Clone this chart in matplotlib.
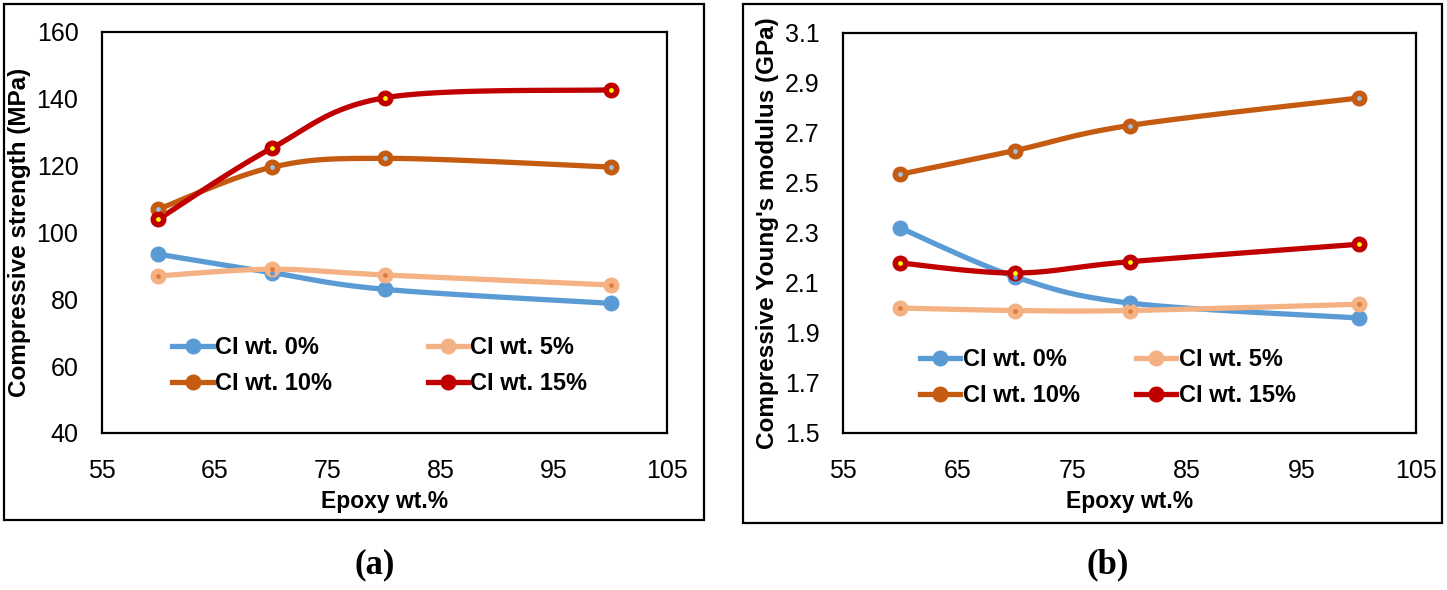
import numpy as np
import matplotlib.pyplot as plt
from matplotlib.lines import Line2D
from matplotlib.patches import Rectangle

# data
epoxy = [60, 70, 80, 100]
labels = ['CI wt. 0%', 'CI wt. 5%', 'CI wt. 10%', 'CI wt. 15%']

strength_0 = [93.5, 88.0, 83.0, 78.8]
strength_5 = [87.0, 89.0, 87.3, 84.3]
strength_10 = [107.0, 119.5, 122.2, 119.6]
strength_15 = [104.0, 125.2, 140.3, 142.7]

modulus_0 = [2.32, 2.125, 2.02, 1.96]
modulus_5 = [2.00, 1.99, 1.99, 2.015]
modulus_10 = [2.535, 2.63, 2.73, 2.84]
modulus_15 = [2.18, 2.14, 2.185, 2.255]

colors = ['#5B9BD5', '#F4B183', '#C55A11', '#C00000']
dot_colors = ['#5B9BD5', '#E07B39', '#9DC3E6', '#FFFF00']

tick_font = ['Liberation Sans Narrow', 'Liberation Sans', 'DejaVu Sans']
bold_font = ['Liberation Sans', 'DejaVu Sans']


def smooth(x, y, xr, yr, n=40):
    # Excel-like smoothed line (Catmull-Rom through the points)
    p = np.column_stack([(np.array(x) - xr[0]) / (xr[1] - xr[0]),
                         (np.array(y) - yr[0]) / (yr[1] - yr[0])])
    pts = np.vstack([p[0], p, p[-1]])
    out = []
    for i in range(1, len(pts) - 2):
        p0, p1, p2, p3 = pts[i - 1], pts[i], pts[i + 1], pts[i + 2]
        c1 = p1 + (p2 - p0) / 6
        c2 = p2 - (p3 - p1) / 6
        t = np.linspace(0, 1, n)[:, None]
        seg = ((1 - t) ** 3) * p1 + 3 * ((1 - t) ** 2) * t * c1 + 3 * (1 - t) * t ** 2 * c2 + t ** 3 * p2
        out.append(seg)
    s = np.vstack(out)
    return s[:, 0] * (xr[1] - xr[0]) + xr[0], s[:, 1] * (yr[1] - yr[0]) + yr[0]


def draw(ax, series, ylim, yticks, ylabel, leg_anchor, colspace, ydec):
    xr = (55, 105)
    for vals, c, dc in zip(series, colors, dot_colors):
        sx, sy = smooth(epoxy, vals, xr, ylim)
        ax.plot(sx, sy, color=c, lw=3.8, solid_capstyle='round', zorder=2)
        ax.plot(epoxy, vals, 'o', color=c, ms=10.5, zorder=3)
        ax.plot(epoxy, vals, 'o', color=dc, ms=2.4, zorder=4)
    ax.set_xlim(*xr)
    ax.set_ylim(*ylim)
    ax.set_xticks(range(55, 106, 10))
    ax.set_yticks(yticks)
    ax.set_yticklabels([f'{v:.{ydec}f}' for v in yticks], family=tick_font, fontsize=18)
    ax.set_xticklabels([str(v) for v in range(55, 106, 10)], family=tick_font, fontsize=18)
    ax.tick_params(length=0, pad=17)
    ax.tick_params(axis='x', pad=19)
    for sp in ax.spines.values():
        sp.set_linewidth(1.6)
    ax.set_xlabel('Epoxy wt.%', family=bold_font, fontweight='bold', fontsize=16.5, labelpad=5)
    ax.set_ylabel(ylabel, family=bold_font, fontweight='bold', fontsize=17.5, labelpad=4)
    # legend fills by column, so reorder to get rows 0%/5% and 10%/15%
    order = [0, 2, 1, 3]
    handles = [Line2D([0], [0], color=colors[i], lw=3.8, marker='o', ms=10.5) for i in order]
    ax.legend(handles, [labels[i] for i in order], ncol=2, loc='upper left',
              bbox_to_anchor=leg_anchor, frameon=False, handlelength=1.7,
              handletextpad=0.1, columnspacing=colspace, labelspacing=0.55,
              borderaxespad=0, prop={'family': bold_font, 'weight': 'bold', 'size': 17})


fig = plt.figure(figsize=(14.47, 5.90), dpi=100)

ax1 = fig.add_axes([102 / 1447, 1 - 433 / 590, 565 / 1447, 401 / 590])
draw(ax1, [strength_0, strength_5, strength_10, strength_15], (40, 160),
     list(range(40, 161, 20)), 'Compressive strength (MPa)', (0.108, 0.265), 4.05, 0)

ax2 = fig.add_axes([843 / 1447, 1 - 433 / 590, 573 / 1447, 400 / 590])
draw(ax2, [modulus_0, modulus_5, modulus_10, modulus_15], (1.5, 3.1),
     [1.5, 1.7, 1.9, 2.1, 2.3, 2.5, 2.7, 2.9, 3.1], "Compressive Young's modulus (GPa)",
     (0.118, 0.235), 2.4, 1)

# outer frames round each panel
fig.patches.append(Rectangle((4 / 1447, 1 - 520 / 590), 700 / 1447, 516 / 590,
                             transform=fig.transFigure, fill=False, lw=1.6, ec='black'))
fig.patches.append(Rectangle((743 / 1447, 1 - 523 / 590), 699 / 1447, 519 / 590,
                             transform=fig.transFigure, fill=False, lw=1.6, ec='black'))

fig.text(375 / 1447, 1 - 565 / 590, '(a)', ha='center', va='center',
         family=['Liberation Serif', 'DejaVu Serif'], fontweight='bold', fontsize=25)
fig.text(1108 / 1447, 1 - 565 / 590, '(b)', ha='center', va='center',
         family=['Liberation Serif', 'DejaVu Serif'], fontweight='bold', fontsize=25)

fig.savefig('out.png', dpi=100)
